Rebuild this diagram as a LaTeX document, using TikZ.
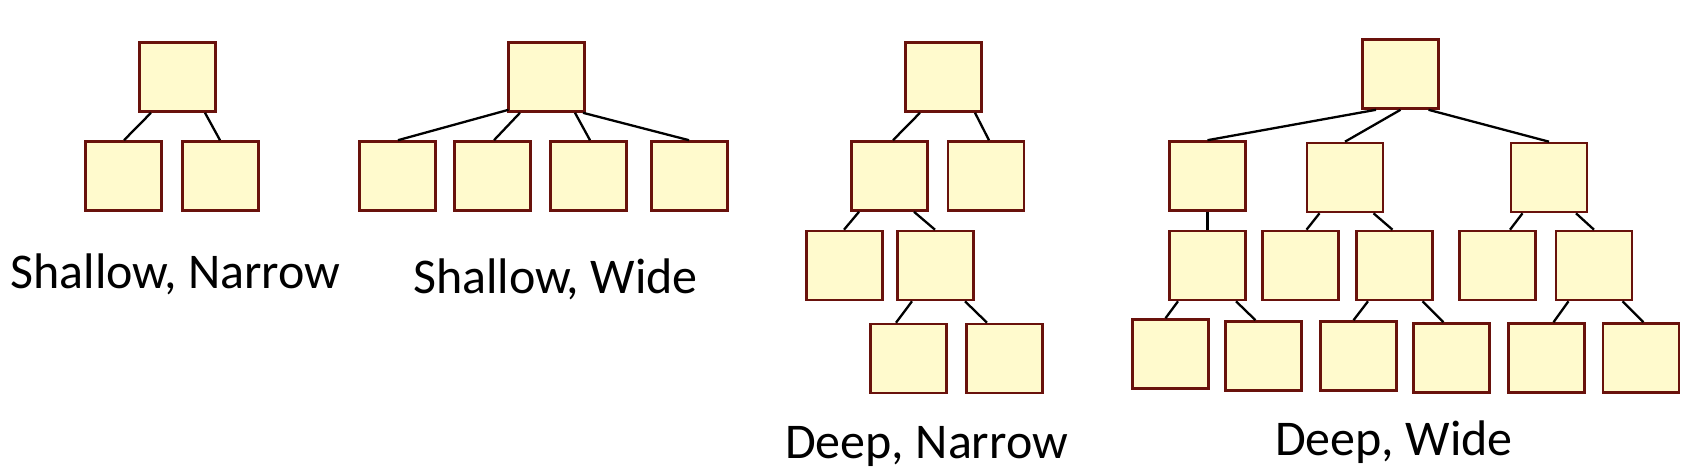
\documentclass[tikz,border=0pt]{standalone}
\usepackage{fontspec}
\setmainfont{Carlito}
\definecolor{boxfill}{RGB}{255,250,205}
\definecolor{boxdraw}{RGB}{105,18,12}
\begin{document}
\begin{tikzpicture}[x=1pt,y=-1pt,
  tbox/.style={draw=boxdraw,fill=boxfill,line width=2.6pt,minimum width=76pt,minimum height=69pt,inner sep=0pt},
  link/.style={line width=2.3pt,black},
  lbl/.style={anchor=base,font=\fontsize{50}{58}\selectfont,inner sep=0pt}]
\useasboundingbox (0,0) rectangle (1691,473);
% Shallow, Narrow
\node[tbox] (snR) at (177.5,77) {};
\node[tbox] (snA) at (123.5,176) {};
\node[tbox] (snB) at (220.5,176) {};
\draw[link] ([xshift=-26.5pt]snR.south) -- ([xshift=0.5pt]snA.north);
\draw[link] ([xshift=27.5pt]snR.south) -- ([xshift=-0.5pt]snB.north);
\node[lbl] (snT) at (175.5,288) {Shallow, Narrow};
% Shallow, Wide
\node[tbox] (swR) at (546.5,77) {};
\node[tbox] (sw1) at (397.5,176) {};
\node[tbox] (sw2) at (492.5,176) {};
\node[tbox] (sw3) at (588.5,176) {};
\node[tbox] (sw4) at (689.5,176) {};
\draw[link] ([xshift=-38pt,yshift=3pt]swR.south) -- ([xshift=0.5pt]sw1.north);
\draw[link] ([xshift=-26.5pt]swR.south) -- ([xshift=1.5pt]sw2.north);
\draw[link] ([xshift=28.5pt]swR.south) -- ([xshift=1.5pt]sw3.north);
\draw[link] ([xshift=36.5pt]swR.south) -- ([xshift=-0.5pt]sw4.north);
\node[lbl] (swT) at (555.5,293) {Shallow, Wide};
% Deep, Narrow
\node[tbox] (dnR) at (943.5,77) {};
\node[tbox] (dnA) at (889.5,176) {};
\node[tbox] (dnB) at (986,176) {};
\node[tbox] (dnC) at (844.5,265.5) {};
\node[tbox] (dnD) at (935.5,265.5) {};
\node[tbox] (dnE) at (908.5,358.5) {};
\node[tbox] (dnF) at (1004.5,358.5) {};
\draw[link] ([xshift=-23.5pt]dnR.south) -- ([xshift=3.5pt]dnA.north);
\draw[link] ([xshift=31.5pt]dnR.south) -- ([xshift=3pt]dnB.north);
\draw[link] ([xshift=-30.5pt]dnA.south) -- ([xshift=-0.5pt]dnC.north);
\draw[link] ([xshift=24.5pt]dnA.south) -- ([xshift=-0.5pt]dnD.north);
\draw[link] ([xshift=-23.5pt]dnD.south) -- ([xshift=-12.5pt]dnE.north);
\draw[link] ([xshift=29.5pt]dnD.south) -- ([xshift=-17.5pt]dnF.north);
\node[lbl] (dnT) at (926.5,458) {Deep, Narrow};
% Deep, Wide
\node[tbox] (dwR) at (1400.5,74) {};
\node[tbox] (dwA) at (1207.5,176) {};
\node[tbox] (dwB) at (1345,177.5) {};
\node[tbox] (dwC) at (1549,177.5) {};
\node[tbox] (dwD) at (1207.5,265.5) {};
\node[tbox] (dwE) at (1300.5,265.5) {};
\node[tbox] (dwF) at (1394.5,265.5) {};
\node[tbox] (dwG) at (1497.5,265.5) {};
\node[tbox] (dwH) at (1594,265.5) {};
\node[tbox] (dwI) at (1170.5,354) {};
\node[tbox] (dwJ) at (1263.5,356) {};
\node[tbox] (dwK) at (1358.5,356) {};
\node[tbox] (dwL) at (1451.5,358) {};
\node[tbox] (dwM) at (1546.5,358) {};
\node[tbox] (dwN) at (1641,358) {};
\draw[link] ([xshift=-24.5pt]dwR.south) -- (dwA.north);
\draw[link] (dwR.south) -- (dwB.north);
\draw[link] ([xshift=28pt]dwR.south) -- (dwC.north);
\draw[link] (dwA.south) -- (dwD.north);
\draw[link] ([xshift=-25.5pt]dwB.south) -- ([xshift=6pt]dwE.north);
\draw[link] ([xshift=28.5pt]dwB.south) -- ([xshift=-2pt]dwF.north);
\draw[link] ([xshift=-26.5pt]dwC.south) -- ([xshift=12.5pt]dwG.north);
\draw[link] ([xshift=27pt]dwC.south) -- (dwH.north);
\draw[link] ([xshift=-29.5pt]dwD.south) -- ([xshift=-5pt]dwI.north);
\draw[link] ([xshift=28.5pt]dwD.south) -- ([xshift=-8pt]dwJ.north);
\draw[link] ([xshift=-26.5pt]dwF.south) -- ([xshift=-5pt]dwK.north);
\draw[link] ([xshift=28pt]dwF.south) -- ([xshift=-8pt]dwL.north);
\draw[link] ([xshift=-25.5pt]dwH.south) -- ([xshift=7pt]dwM.north);
\draw[link] ([xshift=28.5pt]dwH.south) -- ([xshift=2.5pt]dwN.north);
\node[lbl] (dwT) at (1394,455) {Deep, Wide};
\end{tikzpicture}
\end{document}
